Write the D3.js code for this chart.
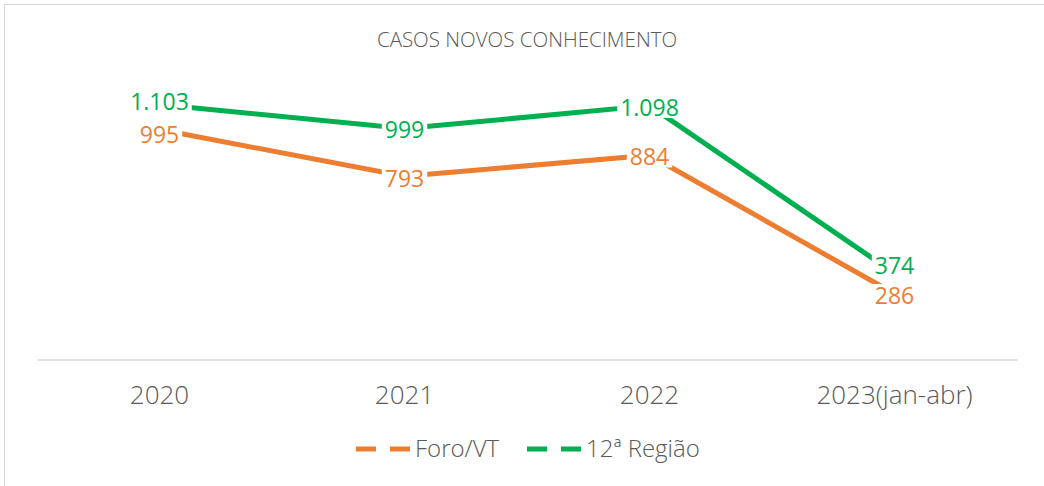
<!DOCTYPE html>
<html>
<head>
<meta charset="utf-8">
<script src="https://cdn.jsdelivr.net/npm/d3@7"></script>
<style>
  html, body { margin: 0; padding: 0; background: #fff; }
  svg { display: block; }
</style>
</head>
<body>
<div id="chart"></div>
<script>
const categories = ['2020', '2021', '2022', '2023(jan-abr)'];
const foroVT = [995, 793, 884, 286];
const regiao12 = [1103, 999, 1098, 374];
const seriesNames = ['Foro/VT', '12ª Região'];
const seriesColors = ['#ED7D31', '#00B050'];

const W = 1044, H = 486;
const fmt = v => d3.format(',')(v).replace(/,/g, '.');

const svg = d3.select('#chart').append('svg')
  .attr('width', W)
  .attr('height', H);

// chart frame (only top and left edges are in view)
svg.append('rect')
  .attr('x', 4.5).attr('y', 4.5)
  .attr('width', W + 10).attr('height', H + 10)
  .attr('fill', 'none')
  .attr('stroke', '#d9d9d9')
  .attr('stroke-width', 1);

svg.append('text')
  .attr('x', 527).attr('y', 47)
  .attr('text-anchor', 'middle')
  .attr('font-family', 'Open Sans')
  .attr('font-weight', 300)
  .attr('font-size', 20.5)
  .attr('fill', '#595959')
  .text('CASOS NOVOS CONHECIMENTO');

const x = d3.scaleBand().domain(categories).range([37, 1017]);
const y = d3.scaleLinear().domain([0, 1200]).range([360, 82]);

// category axis
const axis = svg.append('g')
  .attr('transform', 'translate(0,359.5)')
  .call(d3.axisBottom(x).tickSize(0).tickPadding(26));
axis.select('.domain').attr('stroke', '#d9d9d9').attr('stroke-width', 1.5);
axis.selectAll('text')
  .attr('font-family', 'Open Sans')
  .attr('font-weight', 300)
  .attr('font-size', 26)
  .attr('fill', '#595959');

const series = [foroVT, regiao12];
const line = d3.line()
  .x((d, i) => x(categories[i]) + x.bandwidth() / 2)
  .y(d => y(d));

svg.selectAll('path.series')
  .data(series)
  .join('path')
  .attr('class', 'series')
  .attr('d', line)
  .attr('fill', 'none')
  .attr('stroke', (d, i) => seriesColors[i])
  .attr('stroke-width', 5)
  .attr('stroke-linejoin', 'round');

// data labels sit on the points with a white box behind them
const labelShift = [[5, 2, 2, 2], [-3, 1, 2, -8]];
series.forEach((vals, s) => {
  vals.forEach((v, i) => {
    const g = svg.append('g')
      .attr('transform', `translate(${x(categories[i]) + x.bandwidth() / 2},${y(v) + labelShift[s][i]})`);
    const bg = g.append('rect').attr('fill', '#fff');
    const t = g.append('text')
      .attr('text-anchor', 'middle')
      .attr('dy', '0.36em')
      .attr('font-family', 'Open Sans')
      .attr('font-size', 23)
      .attr('fill', seriesColors[s])
      .text(fmt(v));
    const b = t.node().getBBox();
    bg.attr('x', b.x - 3).attr('y', b.y + 5)
      .attr('width', b.width + 6).attr('height', b.height - 10);
  });
});

// legend
const legend = svg.append('g').attr('transform', 'translate(0,449)');
const legendX = [356, 527];
seriesNames.forEach((name, i) => {
  const g = legend.append('g').attr('transform', `translate(${legendX[i]},0)`);
  g.append('line')
    .attr('x1', 0).attr('x2', 56)
    .attr('stroke', seriesColors[i])
    .attr('stroke-width', 5)
    .attr('stroke-dasharray', '20,14');
  g.append('text')
    .attr('x', 59)
    .attr('dy', '0.35em')
    .attr('font-family', 'Open Sans')
    .attr('font-weight', 300)
    .attr('font-size', 24)
    .attr('fill', '#595959')
    .text(name);
});
</script>
</body>
</html>
